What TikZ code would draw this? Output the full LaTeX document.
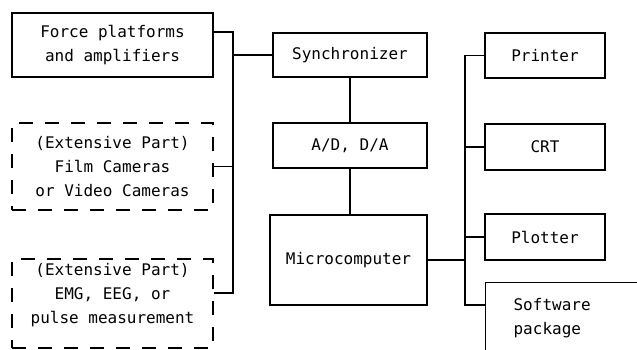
\documentclass[tikz,border=0pt]{standalone}
\usepackage{fontspec}
\newfontfamily\typewr{DejaVu Sans Mono}
\usetikzlibrary{calc}

\begin{document}
\begin{tikzpicture}[x=1pt, y=-1pt, line width=1.2pt,
  box/.style={draw, rectangle, inner sep=0pt, align=center,
    font=\typewr\fontsize{16}{24}\selectfont},
  dbox/.style={box, dash pattern=on 14pt off 12pt}]
  \useasboundingbox (0,0) rectangle (637,349);
  \clip (0,0) rectangle (637,349);
  \node[box, minimum width=201pt, minimum height=64pt] (force) at (112.5,45) {Force platforms\\and amplifiers};
  \node[dbox, minimum width=201pt, minimum height=87pt] (film) at (112.5,166.5) {(Extensive Part)\\Film Cameras\\or Video Cameras};
  \node[dbox, minimum width=201pt, minimum height=89pt, text depth=21pt] (emg) at (112.5,303.5) {(Extensive Part)\\EMG, EEG, or\\pulse measurement};
  \node[box, minimum width=154pt, minimum height=44pt] (sync) at (350,55) {Synchronizer};
  \node[box, minimum width=154pt, minimum height=45pt] (ad) at (350,145.5) {A/D, D/A};
  \node[box, minimum width=157pt, minimum height=90pt] (micro) at (348.5,260) {Microcomputer};
  \node[box, minimum width=120pt, minimum height=45pt] (printer) at (545,55.5) {Printer};
  \node[box, minimum width=120pt, minimum height=46pt] (crt) at (545,147) {CRT};
  \node[box, minimum width=120pt, minimum height=46pt] (plotter) at (545,237) {Plotter};
  \node[box, anchor=north west, align=left, text width=130pt, inner xsep=28pt, inner ysep=16pt, text depth=60pt] (soft) at (485,282) {Software\\package};
  \coordinate (ltop) at (233,32);
  \coordinate (lbot) at (233,293);
  \coordinate (rtop) at (465,55.5);
  \coordinate (rbot) at (465,305);
  \draw (force.east |- ltop) -- (ltop) -- (lbot) -- (emg.east |- lbot);
  \draw (film.east) -- (film.east -| ltop);
  \draw (sync.west) -- (sync.west -| ltop);
  \draw (sync.south) -- (ad.north);
  \draw (ad.south) -- (ad.south |- micro.north);
  \draw (printer.west) -- (rtop) -- (rbot) -- (soft.west |- rbot);
  \draw (crt.west) -- (crt.west -| rtop);
  \draw (plotter.west) -- (plotter.west -| rtop);
  \draw (micro.east) -- (micro.east -| rtop);
\end{tikzpicture}
\end{document}
